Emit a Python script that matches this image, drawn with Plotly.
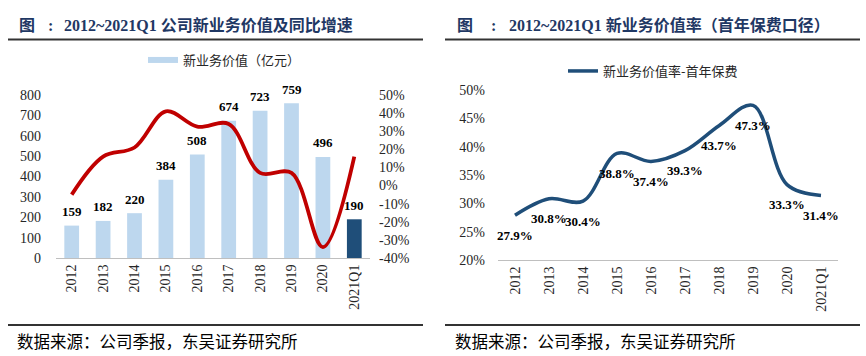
import plotly.graph_objects as go

W, H = 866, 356

# ---------------- data ----------------
categories = ["2012", "2013", "2014", "2015", "2016", "2017", "2018", "2019", "2020", "2021Q1"]
nbv = [159, 182, 220, 384, 508, 674, 723, 759, 496, 190]           # 新业务价值（亿元）
nbv_growth = [-5, 16, 21, 41, 32.5, 34, 7, 7, -34, 16]              # 同比增速 %
nbv_margin = [27.9, 30.8, 30.4, 38.8, 37.4, 39.3, 43.7, 47.3, 33.3, 31.4]  # 新业务价值率 %

growth_tickvals = [50, 40, 30, 20, 10, 0, -10, -20, -30, -40]
growth_ticktext = ["50%", "40%", "30%", "20%", "10%", "0%", "-10%", "-20%", "-30%", "-40%"]

title_left = "2012~2021Q1 公司新业务价值及同比增速"
title_right = "2012~2021Q1 新业务价值率（首年保费口径）"
source_text = "数据来源：公司季报，东吴证券研究所"
legend_bar_name = "新业务价值（亿元）"
legend_line_name = "新业务价值率-首年保费"

# ---------------- styles ----------------
LIGHT_BLUE = "#BDD7EE"
NAVY = "#1F4E79"
RED = "#C00000"
TITLE_NAVY = "#1F3864"
SERIF = "Liberation Serif, Noto Sans CJK SC, serif"
CJK = "Noto Sans CJK SC, sans-serif"
TXT = "#262626"


def px_x(x):
    return x / W


def px_y(y):
    return 1 - y / H


bar_colors = [LIGHT_BLUE] * (len(categories) - 1) + [NAVY]

fig = go.Figure()

fig.add_trace(go.Bar(
    x=categories, y=nbv, marker=dict(color=bar_colors, line=dict(width=0)),
    width=0.47, xaxis="x", yaxis="y", showlegend=False, hoverinfo="skip"))

fig.add_trace(go.Scatter(
    x=categories, y=nbv_growth, mode="lines",
    line=dict(color=RED, width=3.8, shape="spline", smoothing=1.0),
    xaxis="x", yaxis="y2", showlegend=False, hoverinfo="skip"))

# legend entry for the bar series (wide flat swatch like the original)
fig.add_trace(go.Scatter(
    x=[None], y=[None], mode="lines", name=legend_bar_name,
    line=dict(color=LIGHT_BLUE, width=6), xaxis="x", yaxis="y",
    legend="legend", showlegend=True, hoverinfo="skip"))

fig.add_trace(go.Scatter(
    x=categories, y=nbv_margin, mode="lines", name=legend_line_name,
    line=dict(color=NAVY, width=3.5, shape="spline", smoothing=1.0),
    xaxis="x3", yaxis="y3", legend="legend2", showlegend=True, hoverinfo="skip"))

annotations = []
for i, v in enumerate(nbv):
    annotations.append(dict(x=i, y=v, xref="x", yref="y", text=f"<b>{v}</b>",
                            showarrow=False, yshift=14, yanchor="middle",
                            font=dict(family=SERIF, size=13, color="#000")))
for i, v in enumerate(nbv_margin):
    annotations.append(dict(x=i, y=v, xref="x3", yref="y3", text=f"<b>{v}%</b>",
                            showarrow=False, yshift=-20, yanchor="middle",
                            font=dict(family=SERIF, size=13, color="#000")))

# titles
for x0, xc, xt, t in [(17, 50, 62, title_left), (455, 494, 507, title_right)]:
    annotations.append(dict(x=px_x(x0), y=px_y(25), xref="paper", yref="paper", text="<b>图</b>",
                            showarrow=False, xanchor="left", yanchor="middle",
                            font=dict(family=SERIF, size=16, color=TITLE_NAVY)))
    annotations.append(dict(x=px_x(xc), y=px_y(25), xref="paper", yref="paper", text="<b>:</b>",
                            showarrow=False, xanchor="center", yanchor="middle",
                            font=dict(family=SERIF, size=16, color=TITLE_NAVY)))
    annotations.append(dict(x=px_x(xt), y=px_y(25), xref="paper", yref="paper", text=f"<b>{t}</b>",
                            showarrow=False, xanchor="left", yanchor="middle",
                            font=dict(family=SERIF, size=16, color=TITLE_NAVY)))
# sources
for x0 in [15, 453]:
    annotations.append(dict(x=px_x(x0), y=px_y(341), xref="paper", yref="paper", text=source_text,
                            showarrow=False, xanchor="left", yanchor="middle",
                            font=dict(family=CJK, size=16.5, color="#000")))

shapes = []
for (xa, xb) in [(8, 423), (445, 860)]:
    for yy in [39.5, 325]:
        shapes.append(dict(type="line", xref="paper", yref="paper",
                           x0=px_x(xa), x1=px_x(xb), y0=px_y(yy), y1=px_y(yy),
                           line=dict(color="#333333", width=2)))

tickfont = dict(family=SERIF, size=14, color=TXT)

fig.update_layout(
    template="none",
    width=W, height=H, autosize=False,
    margin=dict(l=0, r=0, t=0, b=0, pad=0),
    paper_bgcolor="white", plot_bgcolor="rgba(0,0,0,0)",
    xaxis=dict(domain=[px_x(56), px_x(370)], type="category", categoryorder="array",
               categoryarray=categories, range=[-0.5, 9.5], anchor="y", automargin=False,
               tickangle=-90, tickfont=tickfont, showline=True, linecolor="#BFBFBF",
               linewidth=1, ticks="", showgrid=False, zeroline=False),
    yaxis=dict(domain=[px_y(258), px_y(95)], range=[0, 800], dtick=100, anchor="x",
               tickfont=tickfont, showgrid=False, zeroline=False, showline=False,
               ticks="", ticklabelstandoff=14, automargin=False),
    yaxis2=dict(overlaying="y", side="right", anchor="x", range=[-40, 50],
                tickvals=growth_tickvals, ticktext=growth_ticktext, tickfont=tickfont,
                showgrid=False, zeroline=False, showline=False, ticks="",
                ticklabelstandoff=8, automargin=False),
    xaxis3=dict(domain=[px_x(498), px_x(838)], type="category", categoryorder="array",
                categoryarray=categories, range=[-0.5, 9.5], anchor="y3", automargin=False,
                tickangle=-90, tickfont=tickfont, showline=True, linecolor="#BFBFBF",
                linewidth=1, ticks="", showgrid=False, zeroline=False),
    yaxis3=dict(domain=[px_y(260), px_y(90)], range=[20, 50], dtick=5, ticksuffix="%",
                anchor="x3", tickfont=tickfont, showgrid=False, zeroline=False,
                showline=False, ticks="", ticklabelstandoff=12, automargin=False),
    legend=dict(x=px_x(143), y=px_y(60), xanchor="left", yanchor="middle",
                font=dict(family=CJK, size=13, color=TXT), bgcolor="rgba(0,0,0,0)",
                borderwidth=0),
    legend2=dict(x=px_x(563), y=px_y(71), xanchor="left", yanchor="middle",
                 font=dict(family=CJK, size=13, color=TXT), bgcolor="rgba(0,0,0,0)",
                 borderwidth=0),
    annotations=annotations,
    shapes=shapes,
)

fig.write_html("out.html", config={"displayModeBar": False},
               post_script="document.body.style.margin='0';")
